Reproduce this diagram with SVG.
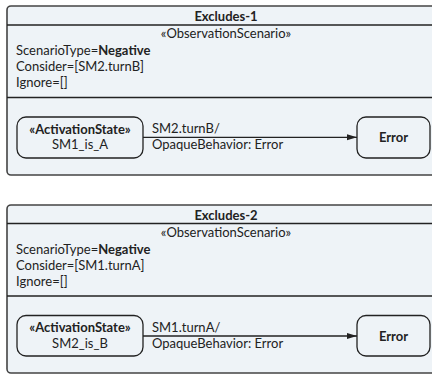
<svg xmlns="http://www.w3.org/2000/svg" width="432" height="375" viewBox="0 0 432 375">
<defs>
<style>
.frame{fill:#eef3f7;stroke:#444;stroke-width:1.6}
.sep{stroke:#222;stroke-width:1.4}
.state{fill:#eef3f7;stroke:#222;stroke-width:1.3}
text{font-family:Lato,"Liberation Sans",sans-serif;font-size:13px;fill:#222}
.b{font-weight:bold}
.c{text-anchor:middle}
.edge{stroke:#222;stroke-width:1.3;fill:none}
</style>
<marker id="arr" markerWidth="11" markerHeight="8" refX="10" refY="4" orient="auto" markerUnits="userSpaceOnUse">
<path d="M0,1 L10,4 L0,7 Z" fill="#222"/>
</marker>
</defs>
<rect width="432" height="375" fill="#fff"/>
<g id="frame1">
<rect class="frame" x="7" y="6" width="438" height="169" rx="4"/>
<line class="sep" x1="7" y1="25" x2="445" y2="25"/>
<line class="sep" x1="7" y1="97.5" x2="445" y2="97.5"/>
<text class="b c" x="226" y="21">Excludes-1</text>
<text class="c" x="226" y="38">«ObservationScenario»</text>
<text x="16" y="55">ScenarioType=<tspan class="b">Negative</tspan></text>
<text x="16" y="71">Consider=[SM2.turnB]</text>
<text x="16" y="87">Ignore=[]</text>
</g>
<g id="state1">
<rect class="state" x="17" y="117" width="126" height="41" rx="9"/>
<text class="b c" x="80" y="133.5">«ActivationState»</text>
<text class="c" x="80" y="149">SM1_is_A</text>
</g>
<g id="error1">
<rect class="state" x="357" y="117" width="73" height="41" rx="9"/>
<text class="b c" x="393.5" y="142">Error</text>
</g>
<g id="frame2">
<rect class="frame" x="7" y="205" width="438" height="168" rx="4"/>
<line class="sep" x1="7" y1="223.5" x2="445" y2="223.5"/>
<line class="sep" x1="7" y1="296" x2="445" y2="296"/>
<text class="b c" x="226" y="219.5">Excludes-2</text>
<text class="c" x="226" y="236.5">«ObservationScenario»</text>
<text x="16" y="254">ScenarioType=<tspan class="b">Negative</tspan></text>
<text x="16" y="270">Consider=[SM1.turnA]</text>
<text x="16" y="286">Ignore=[]</text>
</g>
<g id="state2">
<rect class="state" x="17" y="315.5" width="126" height="40.5" rx="9"/>
<text class="b c" x="80" y="332">«ActivationState»</text>
<text class="c" x="80" y="347.5">SM2_is_B</text>
</g>
<g id="error2">
<rect class="state" x="357" y="315.5" width="73" height="40.5" rx="9"/>
<text class="b c" x="393.5" y="340.5">Error</text>
</g>
<g id="connectors">
<line class="edge" x1="143" y1="137.3" x2="357" y2="137.3" marker-end="url(#arr)"/>
<text x="152" y="133">SM2.turnB/</text>
<text x="152" y="149">OpaqueBehavior: Error</text>
<line class="edge" x1="143" y1="336" x2="357" y2="336" marker-end="url(#arr)"/>
<text x="152" y="331.5">SM1.turnA/</text>
<text x="152" y="347.5">OpaqueBehavior: Error</text>
</g>
</svg>
